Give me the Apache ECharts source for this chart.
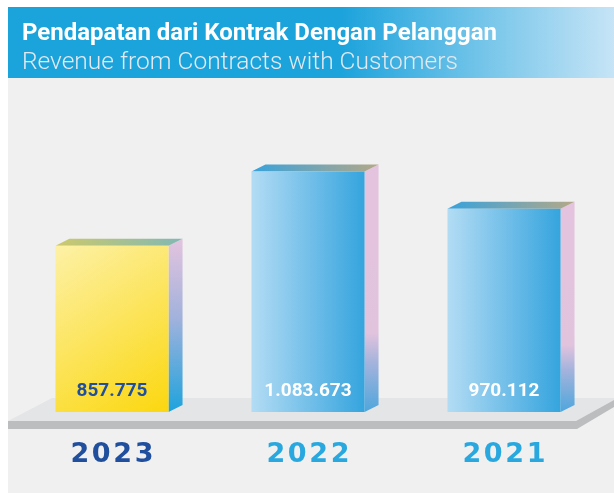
<!DOCTYPE html>
<html>
<head>
<meta charset="utf-8">
<title>Pendapatan dari Kontrak Dengan Pelanggan</title>
<script src="https://cdn.jsdelivr.net/npm/echarts@6/dist/echarts.min.js"></script>
<style>
  html, body { margin: 0; padding: 0; background: #ffffff; }
  #chart { width: 614px; height: 493px; }
</style>
</head>
<body>
<div id="chart"></div>
<script>
// data
var years = ['2023', '2022', '2021']
var revenue = [857.775, 1083.673, 970.112]
var valueLabels = ['857.775', '1.083.673', '970.112']

var yMin = 350
var yMax = 1200

var chart = echarts.init(document.getElementById('chart'))

// 3d box: front face + top + right side
function renderBox (params, api) {
  var idx = api.value(0)
  var top = api.coord([idx, api.value(1)])
  var base = api.coord([idx, yMin])
  var w = api.size([1, 0])[0] * 0.577
  var x0 = top[0] - w / 2
  var x1 = top[0] + w / 2
  var dx = 14
  var dy = 7
  var first = idx === 0

  var front = first
    ? new echarts.graphic.LinearGradient(0, 0, 1, 1, [
      { offset: 0, color: '#fdf1a6' },
      { offset: 1, color: '#fbd70f' }
    ])
    : new echarts.graphic.LinearGradient(0, 0, 1, 0, [
      { offset: 0, color: '#b3dcf4' },
      { offset: 1, color: '#35a4de' }
    ])
  var roof = first
    ? new echarts.graphic.LinearGradient(0, 0, 1, 0, [
      { offset: 0, color: '#cdc96c' },
      { offset: 1, color: '#82b8b3' }
    ])
    : new echarts.graphic.LinearGradient(0, 0, 1, 0, [
      { offset: 0, color: '#38a2dc' },
      { offset: 1, color: '#b4a888' }
    ])
  var side = first
    ? new echarts.graphic.LinearGradient(0, 0, 0, 1, [
      { offset: 0, color: '#e4c4df' },
      { offset: 0.45, color: '#a3b2dc' },
      { offset: 1, color: '#1ea3dd' }
    ])
    : new echarts.graphic.LinearGradient(0, 0, 0, 1, [
      { offset: 0, color: '#e4c3de' },
      { offset: 0.68, color: '#e2c3de' },
      { offset: 0.8, color: '#a4b3dc' },
      { offset: 1, color: '#4ea6dc' }
    ])

  return {
    type: 'group',
    children: [
      {
        type: 'polygon',
        shape: { points: [[x1, top[1]], [x1 + dx, top[1] - dy], [x1 + dx, base[1] - dy], [x1, base[1]]] },
        style: { fill: side }
      },
      {
        type: 'polygon',
        shape: { points: [[x0, top[1]], [x0 + dx, top[1] - dy], [x1 + dx, top[1] - dy], [x1, top[1]]] },
        style: { fill: roof }
      },
      {
        type: 'rect',
        shape: { x: x0, y: top[1], width: w, height: base[1] - top[1] },
        style: { fill: front }
      },
      {
        type: 'text',
        x: top[0],
        y: base[1] - 21,
        style: {
          text: valueLabels[idx],
          align: 'center',
          verticalAlign: 'middle',
          font: 'bold 19px Roboto',
          fill: first ? '#1f4f9d' : '#ffffff'
        }
      }
    ]
  }
}

var option = {
  backgroundColor: '#ffffff',
  title: {
    text: 'Pendapatan dari Kontrak Dengan Pelanggan',
    subtext: 'Revenue from Contracts with Customers',
    left: 22,
    top: 22,
    padding: 0,
    itemGap: 4,
    textStyle: {
      color: '#ffffff',
      fontFamily: 'Roboto',
      fontWeight: 'bold',
      fontSize: 24
    },
    subtextStyle: {
      color: '#e3e9ee',
      fontFamily: 'Roboto',
      fontWeight: 300,
      fontSize: 24.5
    }
  },
  graphic: [
    // gray panel
    {
      type: 'rect',
      z: -10,
      shape: { x: 8, y: 78, width: 606, height: 415 },
      style: { fill: '#f0f0f0' }
    },
    // banner
    {
      type: 'rect',
      z: -9,
      shape: { x: 8, y: 7, width: 606, height: 71 },
      style: {
        fill: new echarts.graphic.LinearGradient(0, 0, 1, 0, [
          { offset: 0, color: '#1ba3dc' },
          { offset: 0.55, color: '#1ca3dc' },
          { offset: 1, color: '#c6e4f6' }
        ])
      }
    },
    // platform top
    {
      type: 'polygon',
      z: -8,
      shape: { points: [[52, 398], [614, 398], [614, 400], [576, 421], [8, 421]] },
      style: { fill: '#e4e5e7' }
    },
    // platform edge
    {
      type: 'polygon',
      z: -8,
      shape: { points: [[8, 421], [576, 421], [614, 400], [614, 407], [577, 429], [8, 429]] },
      style: { fill: '#bcbdbf' }
    }
  ],
  grid: {
    left: 14,
    right: 12,
    top: 133.5,
    bottom: 81
  },
  xAxis: {
    type: 'category',
    data: years,
    axisLine: { show: false },
    axisTick: { show: false },
    axisLabel: {
      margin: 29,
      fontFamily: 'DejaVu Sans',
      fontWeight: 'bold',
      fontSize: 27,
      formatter: function (v) {
        return v.split('').join('\u200a')
      },
      color: function (v, i) {
        return i === 0 ? '#1f4f9d' : '#29a8e0'
      }
    }
  },
  yAxis: {
    type: 'value',
    min: yMin,
    max: yMax,
    show: false,
    splitLine: { show: false }
  },
  series: [
    {
      type: 'custom',
      renderItem: renderBox,
      encode: { x: 0, y: 1 },
      data: revenue.map(function (v, i) { return [i, v] })
    }
  ]
}

chart.setOption(option)
</script>
</body>
</html>
